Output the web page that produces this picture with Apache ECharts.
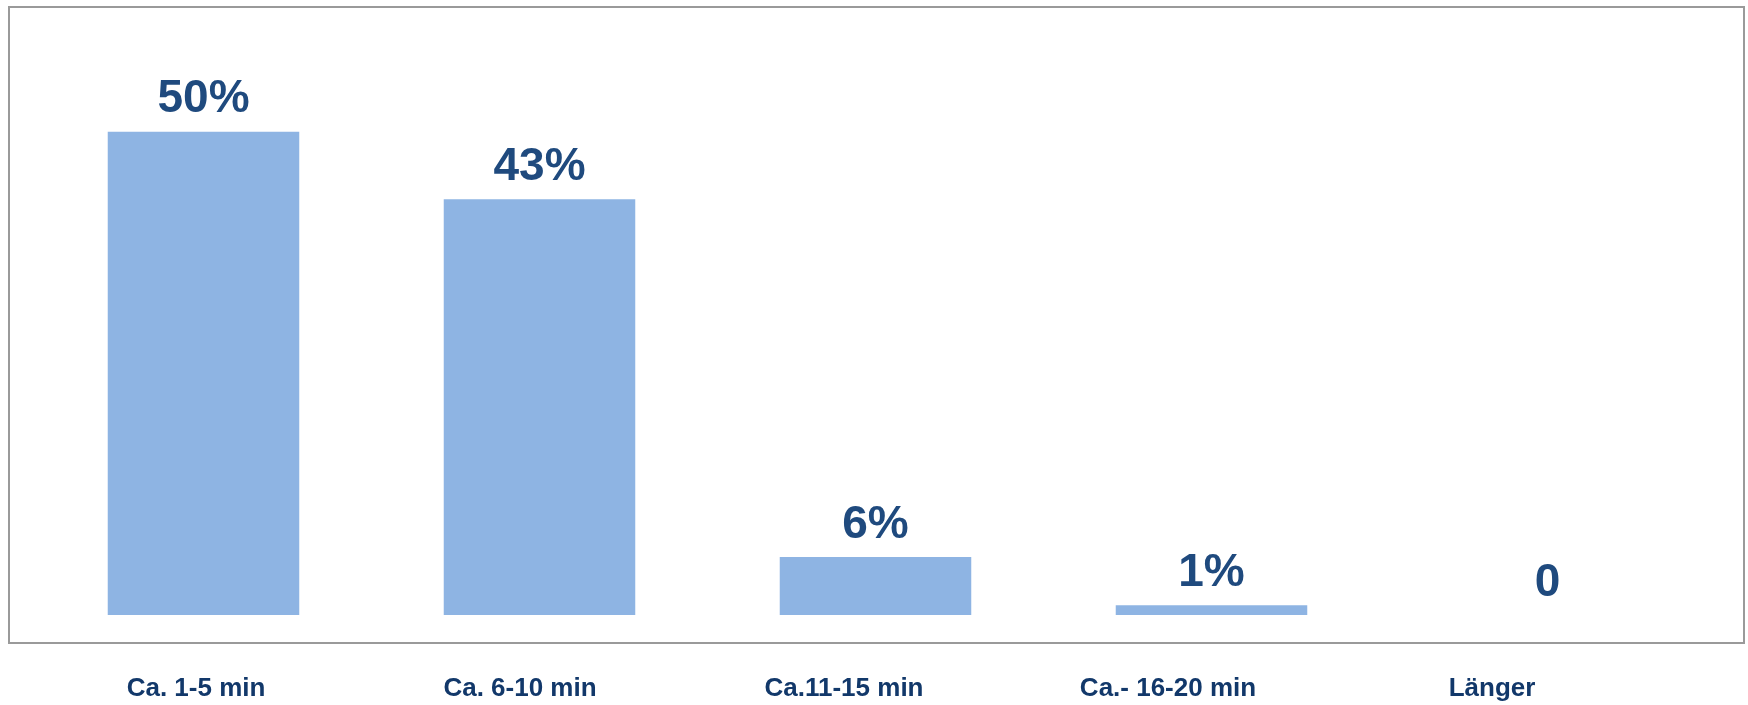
<!DOCTYPE html>
<html>
<head>
<meta charset="utf-8">
<script src="https://cdn.jsdelivr.net/npm/echarts@6/dist/echarts.min.js"></script>
<style>
html,body{margin:0;padding:0;background:#fff;}
#chart{width:1748px;height:705px;}
</style>
</head>
<body>
<div id="chart"></div>
<script>
const categories = ["Ca. 1-5 min", "Ca. 6-10 min", "Ca.11-15 min", "Ca.- 16-20 min", "Länger"];
const values = [50, 43, 6, 1, 0];
const valueLabels = ["50%", "43%", "6%", "1%", "0"];

const FONT = '"Liberation Sans", Arial, sans-serif';
const chart = echarts.init(document.getElementById('chart'), null, {renderer: 'canvas'});
chart.setOption({
  animation: false,
  backgroundColor: '#ffffff',
  graphic: [{
    type: 'rect',
    shape: {x: 9, y: 7, width: 1735, height: 636},
    style: {fill: 'none', stroke: '#9a9a9a', lineWidth: 2},
    silent: true
  }],
  grid: [
    {left: 35.5, right: 32.5, top: 35, bottom: 90},
    {left: 34, right: 94, top: 600, bottom: 40}
  ],
  xAxis: [
    {
      type: 'category', gridIndex: 0, data: categories,
      axisLine: {show: false}, axisTick: {show: false}, axisLabel: {show: false},
      splitLine: {show: false}
    },
    {
      type: 'category', gridIndex: 1, data: categories,
      axisLine: {show: false}, axisTick: {show: false},
      axisLabel: {
        show: true, interval: 0, margin: 11,
        color: '#12386A', fontFamily: FONT, fontWeight: 'bold', fontSize: 26
      },
      splitLine: {show: false}
    }
  ],
  yAxis: [
    {type: 'value', gridIndex: 0, min: 0, max: 60, show: false, splitLine: {show: false}},
    {type: 'value', gridIndex: 1, show: false, splitLine: {show: false}}
  ],
  series: [{
    type: 'bar',
    xAxisIndex: 0, yAxisIndex: 0,
    data: values,
    barCategoryGap: '43%',
    itemStyle: {color: '#8EB4E3'},
    label: {
      show: true, position: 'top', distance: 9,
      formatter: p => valueLabels[p.dataIndex],
      color: '#1F4A7E', fontFamily: FONT, fontWeight: 'bold', fontSize: 46
    }
  }]
});
</script>
</body>
</html>
